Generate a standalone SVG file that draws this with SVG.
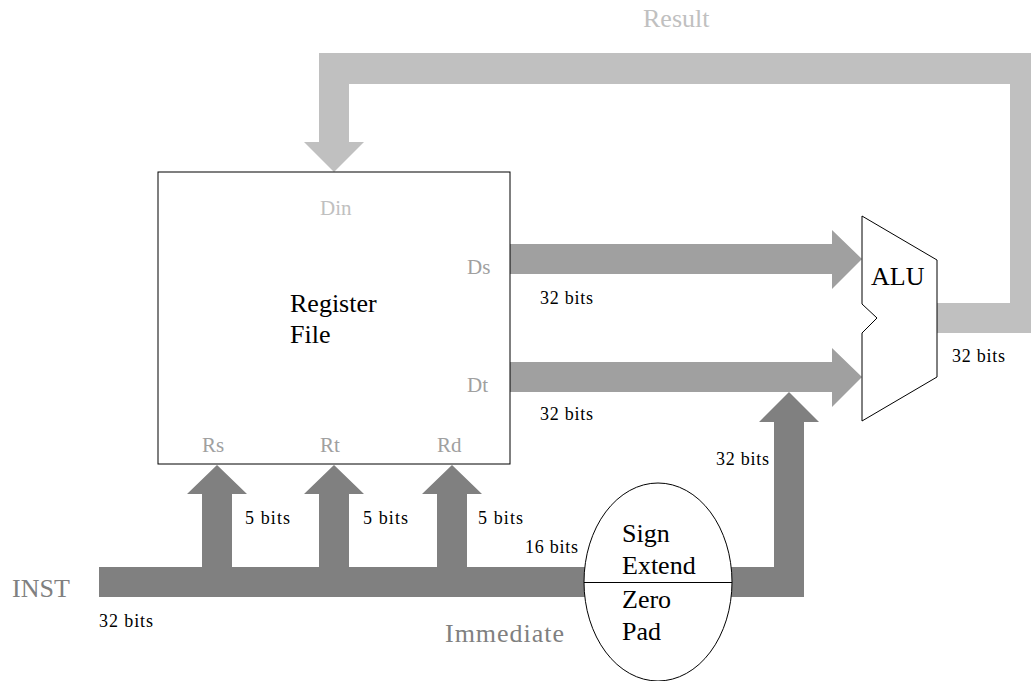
<svg xmlns="http://www.w3.org/2000/svg" width="1031" height="681" viewBox="0 0 1031 681">
<style>
text{font-family:"Liberation Serif","Times New Roman",serif;}
.big{font-size:26px;fill:#000;}
.port{font-size:21px;}
.small{font-size:18px;fill:#000;}
.light{fill:#c0c0c0;}
.mid{fill:#a0a0a0;}
.dark{fill:#808080;}
.box{fill:#fff;stroke:#000;stroke-width:1;}
</style>
<rect width="1031" height="681" fill="#fff"/>
<g id="connectors">
  <polygon id="result-bus" class="light" points="937,303 1010,303 1010,84 349,84 349,142 364,142 334,172 304,142 319,142 319,53 1040,53 1040,333 937,333"/>
  <polygon id="ds-bus" class="mid" points="510,244 832,244 832,230 862,259 832,289 832,274 510,274"/>
  <polygon id="dt-bus" class="mid" points="510,362 832,362 832,348 862,377 832,407 832,392 510,392"/>
  <rect id="inst-bus" class="dark" x="99" y="567" width="705" height="30"/>
  <polygon id="rs-bus" class="dark" points="202,567 202,494 187,494 217,465 247,494 232,494 232,567"/>
  <polygon id="rt-bus" class="dark" points="319,567 319,494 304,494 334,465 364,494 349,494 349,567"/>
  <polygon id="rd-bus" class="dark" points="437,567 437,494 422,494 452,465 482,494 467,494 467,567"/>
  <polygon id="imm-bus" class="dark" points="774,597 774,422 759,422 789,392 819,422 804,422 804,597"/>
</g>
<g id="regfile">
  <rect class="box" x="158" y="172" width="352" height="292"/>
  <text class="big" x="290" y="312">Register</text>
  <text class="big" x="290" y="343">File</text>
  <text class="port light" x="320" y="215">Din</text>
  <text class="port mid" x="467" y="274">Ds</text>
  <text class="port mid" x="467" y="392">Dt</text>
  <text class="port mid" x="202" y="452">Rs</text>
  <text class="port mid" x="320" y="452">Rt</text>
  <text class="port mid" x="437" y="452">Rd</text>
</g>
<g id="alu">
  <polygon class="box" points="862,216 937,260 937,377 862,421 862,333 877,318 862,304"/>
  <text class="big" x="871" y="285" font-size="25">ALU</text>
</g>
<g id="extend">
  <ellipse class="box" cx="658" cy="582" rx="74" ry="99"/>
  <line x1="584" y1="582.5" x2="732" y2="582.5" stroke="#000" stroke-width="1"/>
  <text class="big" x="622" y="542">Sign</text>
  <text class="big" x="622" y="574">Extend</text>
  <text class="big" x="622" y="608">Zero</text>
  <text class="big" x="622" y="640">Pad</text>
</g>
<g id="labels">
  <text class="big light" x="643" y="27">Result</text>
  <text class="big dark" x="12" y="597">INST</text>
  <text class="big dark" x="445" y="642" textLength="119">Immediate</text>
  <text class="small" x="540" y="304" textLength="53">32 bits</text>
  <text class="small" x="540" y="420" textLength="53">32 bits</text>
  <text class="small" x="716" y="465" textLength="53">32 bits</text>
  <text class="small" x="952" y="362" textLength="53">32 bits</text>
  <text class="small" x="99" y="627" textLength="54">32 bits</text>
  <text class="small" x="525" y="553" textLength="53">16 bits</text>
  <text class="small" x="245" y="524" textLength="45">5 bits</text>
  <text class="small" x="363" y="524" textLength="45">5 bits</text>
  <text class="small" x="478" y="524" textLength="45">5 bits</text>
</g>
</svg>
